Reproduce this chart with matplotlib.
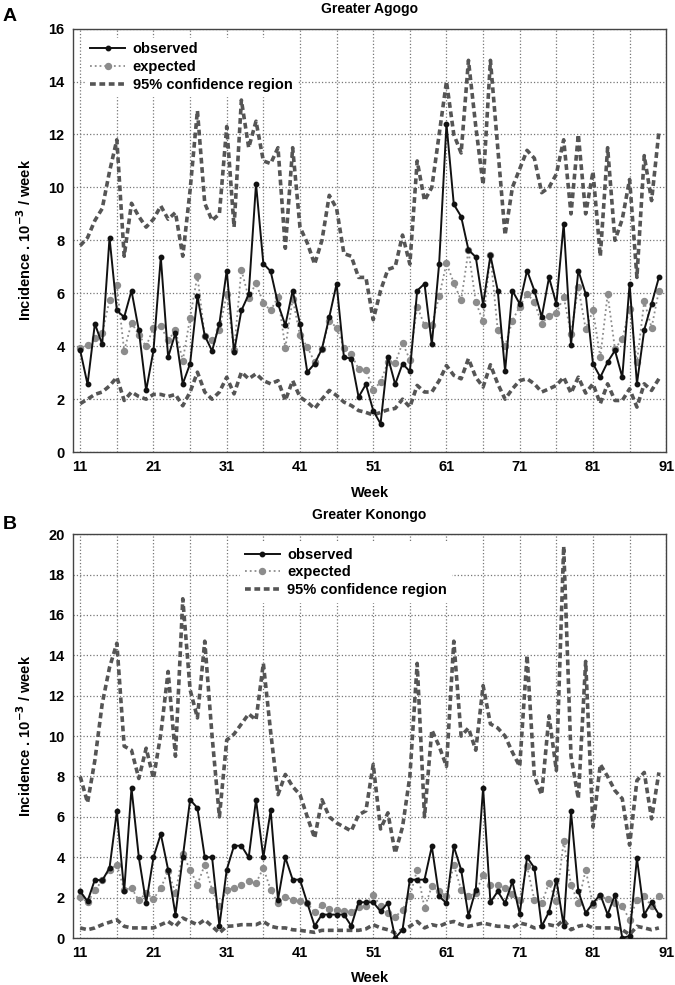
import matplotlib
matplotlib.use("Agg")
import matplotlib.pyplot as plt
from matplotlib.ticker import MultipleLocator, FixedLocator

plt.rcParams['font.family'] = ['Liberation Sans', 'DejaVu Sans']
plt.rcParams['mathtext.default'] = 'bf'

# weeks 11..90
weeks = list(range(11, 91))

# Greater Agogo
agogo_observed = [
    3.84, 2.56, 4.85, 4.07, 8.1, 5.35, 5.1, 6.1, 4.6, 2.33,
    3.84, 7.37, 3.59, 4.5, 2.58, 3.34, 5.88, 4.4, 3.82, 4.85,
    6.86, 3.78, 5.35, 5.96, 10.14, 7.12, 6.83, 5.6, 4.79, 6.1,
    4.85, 3.02, 3.34, 3.9, 5.1, 6.36, 3.59, 3.53, 2.08, 2.56,
    1.57, 1.07, 3.59, 2.56, 3.34, 3.05, 6.1, 6.36, 4.07, 7.12,
    12.4, 9.36, 8.9, 7.64, 7.37, 5.57, 7.43, 6.1, 3.06, 6.1,
    5.6, 6.86, 6.1, 5.1, 6.6, 5.6, 8.63, 4.05, 6.86, 5.98,
    3.34, 2.83, 3.4, 3.84, 2.83, 6.36, 2.58, 4.62, 5.6, 6.6,
]
agogo_expected = [
    3.94, 4.03, 4.32, 4.5, 5.73, 6.3, 3.82, 4.89, 4.43, 3.99,
    4.7, 4.75, 4.22, 4.6, 3.46, 5.08, 6.67, 4.37, 4.22, 4.6,
    5.98, 3.84, 6.89, 5.83, 6.39, 5.63, 5.35, 5.86, 3.94, 5.79,
    4.41, 3.97, 3.4, 3.9, 4.97, 4.7, 3.94, 3.69, 3.15, 3.11,
    2.36, 2.64, 3.4, 3.36, 4.13, 3.49, 5.5, 4.79, 4.79, 5.88,
    7.14, 6.39, 5.73, 7.62, 5.67, 4.94, 7.43, 4.6, 4.0, 4.97,
    5.5, 5.98, 5.67, 4.85, 5.16, 5.25, 5.86, 4.47, 6.23, 4.66,
    5.35, 3.59, 5.96, 3.9, 4.28, 5.42, 3.4, 5.7, 4.7, 6.1,
]
agogo_upper = [
    7.8, 8.1, 8.75, 9.2, 10.6, 11.8, 7.4, 9.4, 8.9, 8.5,
    8.8, 9.3, 8.8, 9.05, 7.4, 9.9, 12.9, 9.4, 8.75, 9.0,
    12.3, 8.5, 13.3, 11.5, 12.5, 11.0, 10.9, 11.5, 7.7, 11.5,
    8.5, 7.9, 7.1, 8.0, 9.7, 9.2, 7.5, 7.4, 6.6, 6.6,
    5.0, 6.1, 6.9, 7.0, 8.2, 7.1, 11.0, 9.5, 10.0, 12.0,
    14.0, 12.0, 11.3, 14.8, 12.3, 10.1, 14.8, 11.5, 8.2, 10.0,
    10.7, 11.4, 11.1, 9.8, 10.0, 10.5, 11.8, 9.0, 12.0, 9.0,
    10.6, 7.4, 11.5, 8.0, 8.8, 10.3, 6.6, 11.2, 9.5, 12.1,
]
agogo_lower = [
    1.83, 2.0, 2.18, 2.27, 2.5, 2.83, 1.95, 2.27, 2.1, 2.0,
    2.18, 2.18, 2.1, 2.18, 1.75, 2.27, 3.02, 2.27, 2.0, 2.27,
    2.83, 2.2, 3.02, 2.77, 2.96, 2.7, 2.58, 2.7, 1.95, 2.7,
    2.08, 1.89, 1.64, 2.0, 2.33, 2.14, 1.89, 1.76, 1.57, 1.5,
    1.4, 1.5, 1.6, 1.65, 2.0, 1.7, 2.52, 2.27, 2.27, 2.7,
    3.27, 2.9, 2.77, 3.53, 2.83, 2.46, 3.3, 2.58, 2.0, 2.39,
    2.7, 2.77, 2.58, 2.27, 2.39, 2.52, 2.83, 2.23, 2.83, 2.23,
    2.58, 1.83, 2.58, 1.95, 1.95, 2.39, 1.7, 2.58, 2.33, 2.77,
]

# Greater Konongo
konongo_observed = [
    2.31, 1.82, 2.89, 2.85, 3.47, 6.27, 2.31, 7.43, 4.0, 1.73,
    4.0, 5.15, 3.38, 1.16, 4.0, 6.85, 6.44, 4.0, 4.0, 0.6,
    3.38, 4.57, 4.57, 3.99, 6.85, 3.99, 6.32, 1.9, 3.99, 2.89,
    2.89, 1.73, 0.6, 1.16, 1.16, 1.16, 1.16, 0.6, 1.77, 1.77,
    1.77, 1.32, 1.73, 0.0, 0.41, 2.89, 2.89, 2.89, 4.54, 2.06,
    1.73, 4.54, 3.38, 1.1, 2.39, 7.43, 1.77, 2.31, 1.73, 2.8,
    1.19, 4.0, 3.47, 0.58, 1.3, 2.89, 0.61, 6.27, 2.31, 1.24,
    1.73, 2.15, 1.16, 2.15, 0.0, 0.1, 3.96, 1.16, 1.77, 1.16,
]
konongo_expected = [
    2.03, 1.77, 2.36, 2.85, 3.38, 3.63, 2.39, 2.48, 1.86, 2.23,
    1.93, 2.48, 3.3, 2.23, 4.17, 3.38, 2.64, 3.63, 2.39, 1.57,
    2.39, 2.48, 2.64, 2.8, 2.72, 3.47, 2.39, 1.73, 2.03, 1.9,
    1.82, 1.73, 1.27, 1.65, 1.44, 1.4, 1.32, 1.27, 1.53, 1.57,
    2.15, 1.57, 1.24, 1.04, 1.4, 2.06, 3.38, 1.49, 2.56, 2.31,
    2.06, 3.63, 2.39, 2.06, 2.23, 3.14, 2.64, 2.64, 2.48, 2.2,
    1.9, 3.55, 1.9, 1.73, 2.72, 1.82, 4.79, 2.64, 1.73, 3.38,
    1.65, 2.06, 1.93, 1.73, 1.57, 0.91, 1.9, 2.06, 1.57, 2.1,
]
konongo_upper = [
    8.0, 6.7, 8.8, 11.6, 13.4, 14.6, 9.5, 9.3, 7.9, 9.4,
    7.9, 10.1, 13.2, 9.0, 16.8, 12.3, 10.9, 14.7, 10.0, 6.0,
    9.8, 10.1, 10.6, 11.1, 10.8, 13.6, 10.2, 7.1, 8.1, 7.5,
    7.1, 6.0, 4.95, 6.85, 6.0, 5.7, 5.5, 5.3, 6.1, 6.3,
    8.6, 5.4, 6.2, 4.2, 5.5, 8.0, 13.6, 6.0, 10.3, 9.5,
    8.5, 14.7, 10.0, 10.4, 9.3, 12.5, 10.6, 10.4, 10.0, 9.2,
    8.5, 14.0, 8.0, 7.1, 11.0, 8.3, 19.4, 9.0, 6.9, 13.7,
    5.5, 8.6, 8.0, 7.3, 6.9, 4.6, 7.8, 8.2, 5.9, 8.2,
]
konongo_lower = [
    0.5, 0.41, 0.5, 0.66, 0.78, 0.9, 0.58, 0.5, 0.5, 0.5,
    0.5, 0.66, 0.82, 0.58, 0.99, 0.82, 0.66, 0.9, 0.58, 0.25,
    0.58, 0.6, 0.66, 0.66, 0.66, 0.82, 0.58, 0.5, 0.5, 0.41,
    0.38, 0.33, 0.28, 0.38, 0.38, 0.38, 0.38, 0.38, 0.38, 0.45,
    0.66, 0.5, 0.41, 0.25, 0.41, 0.58, 0.82, 0.5, 0.66, 0.58,
    0.74, 0.82, 0.66, 0.58, 0.66, 0.74, 0.66, 0.58, 0.58, 0.5,
    0.74, 0.66, 0.5, 0.58, 0.66, 0.58, 0.9, 0.41, 0.58, 0.66,
    0.5, 0.5, 0.5, 0.5, 0.41, 0.17, 0.58, 0.5, 0.41, 0.5,
]

week_labels = list(range(11, 92, 10))

OBS_COLOR = '#111111'
EXP_COLOR = '#8c8c8c'
CI_COLOR = '#555555'


def draw_panel(ax, observed, expected, upper, lower, ymax, title, legend_anchor):
    ax.plot(weeks, upper, color=CI_COLOR, lw=2.6, dashes=(1.6, 1.0),
            label='95% confidence region', zorder=2)
    ax.plot(weeks, lower, color=CI_COLOR, lw=2.6, dashes=(1.6, 1.0), zorder=2)
    ax.plot(weeks, expected, color=EXP_COLOR, lw=1.3, ls=':', marker='o',
            ms=4.3, mec=EXP_COLOR, mfc=EXP_COLOR, label='expected', zorder=3)
    ax.plot(weeks, observed, color=OBS_COLOR, lw=1.4, marker='o', ms=3.2,
            label='observed', zorder=4)

    ax.set_xlim(10, 91)
    ax.set_ylim(0, ymax)
    ax.xaxis.set_major_locator(FixedLocator(week_labels))
    ax.xaxis.set_minor_locator(FixedLocator(list(range(16, 91, 10))))
    ax.yaxis.set_major_locator(MultipleLocator(2))
    ax.grid(True, which='both', axis='x', color='#777777', ls=':', lw=0.9)
    ax.grid(True, which='major', axis='y', color='#777777', ls=':', lw=0.9)
    ax.set_axisbelow(True)
    ax.tick_params(which='both', length=0, labelsize=10.5, pad=6)
    for lab in ax.get_xticklabels() + ax.get_yticklabels():
        lab.set_fontweight('bold')
    for sp in ax.spines.values():
        sp.set_color('#444444')
        sp.set_linewidth(1.0)

    ax.set_title(title, fontsize=10, fontweight='bold', pad=11)
    ax.set_xlabel('Week', fontsize=10.5, fontweight='bold', labelpad=8)
    ax.set_ylabel('Incidence . 10$^{-3}$ / week', fontsize=10.5,
                  fontweight='bold', labelpad=10)

    handles, labels = ax.get_legend_handles_labels()
    order = [2, 1, 0]
    leg = ax.legend([handles[i] for i in order], [labels[i] for i in order],
                    loc='upper left', bbox_to_anchor=legend_anchor,
                    frameon=True, fancybox=False, framealpha=1,
                    edgecolor='white', handlelength=2.4, handletextpad=0.5,
                    labelspacing=0.25, borderpad=0.3,
                    prop={'weight': 'bold', 'size': 10.5})
    leg.set_zorder(5)


fig = plt.figure(figsize=(6.75, 9.85), dpi=100)
ax_a = fig.add_axes([0.108, 0.541, 0.879, 0.430])
ax_b = fig.add_axes([0.108, 0.0477, 0.879, 0.410])

draw_panel(ax_a, agogo_observed, agogo_expected, agogo_upper, agogo_lower,
           16, 'Greater Agogo', (0.01, 0.995))
draw_panel(ax_b, konongo_observed, konongo_expected, konongo_upper, konongo_lower,
           20, 'Greater Konongo', (0.27, 0.995))

fig.text(0.004, 0.983, 'A', fontsize=14, fontweight='bold', va='center')
fig.text(0.004, 0.468, 'B', fontsize=14, fontweight='bold', va='center')

fig.savefig('out.png', dpi=100, facecolor='white')
